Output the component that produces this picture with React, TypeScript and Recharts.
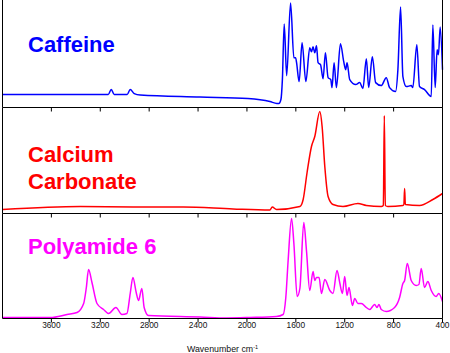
import { LineChart, Line, XAxis, YAxis } from "recharts";

const W = 450;
const H = 353;
const FONT = "'Liberation Sans', Arial, sans-serif";

const wnTicks = [3600, 3200, 2800, 2400, 2000, 1600, 1200, 800, 400];

// [wavenumber cm-1, absorbance (arb. units)]
const caffeine: [number, number][] = [
  [4000, 13], [3530, 13], [3135, 13], [3110, 18], [3086, 13], [2980, 13], [2955, 18],
  [2922, 14], [2873, 12.5], [2384, 10.5], [1992, 9], [1812, 6], [1755, 4], [1739, 4],
  [1722, 8], [1710, 28], [1695, 84], [1675, 32], [1643, 105], [1616, 50], [1602, 50],
  [1594, 45], [1573, 26], [1549, 65], [1518, 26], [1486, 60], [1472, 56], [1459, 61],
  [1445, 55], [1431, 62], [1418, 45], [1398, 43], [1377, 29], [1358, 55], [1336, 30],
  [1314, 28], [1304, 20], [1287, 45], [1268, 20], [1235, 64], [1208, 46], [1192, 38],
  [1181, 45], [1159, 28], [1110, 23], [1078, 25], [1051, 19], [1023, 49], [1004, 20],
  [974, 51], [947, 25], [901, 22], [860, 30], [833, 20], [784, 16], [765, 38], [743, 101],
  [724, 31], [696, 21], [656, 22], [643, 20], [610, 63], [588, 21], [547, 18], [492, 11],
  [479, 83], [460, 20], [444, 58], [433, 53], [419, 81], [400, 38],
];

const calciumCarbonate: [number, number][] = [
  [4000, 4], [3363, 7], [2931, 6.5], [2522, 6.5], [2114, 4.5], [1812, 3.5], [1793, 6.5],
  [1758, 4], [1567, 7], [1540, 14], [1508, 41], [1472, 67], [1445, 77], [1404, 102],
  [1385, 87], [1363, 47], [1336, 17], [1296, 9], [1214, 7], [1092, 10], [1023, 8],
  [901, 7], [884, 8], [876, 98], [868, 8], [847, 7], [724, 8], [716, 9], [710, 25],
  [704, 9], [588, 8], [479, 14], [400, 20],
];

const polyamide6: [number, number][] = [
  [4000, 1], [3608, 1], [3472, 4], [3390, 6], [3336, 15], [3314, 31], [3296, 49],
  [3268, 36], [3227, 15], [3173, 9], [3132, 5], [3072, 11], [3023, 4], [2982, 5],
  [2955, 25], [2933, 41], [2906, 26], [2887, 18], [2860, 30], [2841, 11], [2806, 3],
  [2384, 1.5], [2166, 0.5], [1976, 1], [1758, 2], [1704, 4], [1682, 21], [1663, 58],
  [1635, 100], [1616, 75], [1589, 22], [1567, 30], [1535, 96], [1513, 68], [1486, 28],
  [1459, 47], [1445, 38], [1431, 41], [1410, 41], [1390, 25], [1363, 39], [1322, 28],
  [1296, 25], [1263, 48], [1241, 36], [1219, 25], [1200, 42], [1181, 23], [1165, 31],
  [1137, 13], [1118, 20], [1092, 15], [1064, 15], [1023, 11], [996, 9], [955, 14],
  [936, 11], [920, 14], [901, 9], [860, 7], [792, 11], [751, 21], [724, 35], [710, 38],
  [688, 55], [656, 38], [615, 33], [593, 34], [574, 50], [547, 31], [520, 37], [492, 28],
  [452, 22], [431, 25], [400, 17],
];

const toRows = (pts: [number, number][]) => pts.map(([wn, a]) => ({ wn, a }));

type PanelProps = {
  points: [number, number][];
  color: string;
  top: number;
  bottom: number;
  yMax: number;
  last?: boolean;
};

function Panel({ points, color, top, bottom, yMax, last }: PanelProps) {
  const axisH = last ? 34 : 6;
  return (
    <div style={{ position: "absolute", left: 0, top: 0 }}>
      <LineChart
        width={W}
        height={H}
        data={toRows(points)}
        margin={{ top, right: 5.5, left: 0.5, bottom: H - bottom - axisH }}
      >
        <XAxis
          dataKey="wn"
          type="number"
          domain={[400, 4000]}
          reversed
          ticks={wnTicks}
          height={axisH}
          tickSize={4}
          tickMargin={0}
          axisLine={{ stroke: "#000" }}
          tickLine={{ stroke: "#000" }}
          tick={{ fontSize: 8.3, fill: "#111" }}
          tickFormatter={(v) => (last ? String(v) : "")}
          label={
            last
              ? (p: any) => {
                  const vb = p.viewBox || {};
                  return (
                    <text
                      x={vb.x + vb.width / 2}
                      y={vb.y + vb.height - 1}
                      textAnchor="middle"
                      fontSize={8.8}
                      fill="#111"
                    >
                      Wavenumber cm
                      <tspan dy={-3} fontSize={5.5}>
                        -1
                      </tspan>
                    </text>
                  );
                }
              : undefined
          }
        />
        <YAxis domain={[0, yMax]} width={2} tick={false} tickLine={false} axisLine={{ stroke: "#000" }} />
        <YAxis
          yAxisId="r"
          orientation="right"
          domain={[0, yMax]}
          width={2}
          tick={false}
          tickLine={false}
          axisLine={{ stroke: "#000" }}
        />
        <Line
          type="monotone"
          dataKey="a"
          stroke={color}
          strokeWidth={1.5}
          dot={false}
          isAnimationActive={false}
        />
      </LineChart>
    </div>
  );
}

const titleStyle = (color: string, top: number, lh = 22): React.CSSProperties => ({
  position: "absolute",
  left: 28,
  top,
  color,
  fontSize: 22,
  fontWeight: "bold",
  lineHeight: `${lh}px`,
  fontFamily: FONT,
});

export default function App() {
  return (
    <div style={{ position: "relative", width: W, height: H, fontFamily: FONT, background: "#fff" }}>
      <style>{"body{margin:0}"}</style>
      <Panel points={caffeine} color="#0000ff" top={0} bottom={107.5} yMax={108} />
      <Panel points={calciumCarbonate} color="#ff0000" top={107.5} bottom={213.5} yMax={106} />
      <Panel points={polyamide6} color="#ff00ff" top={213.5} bottom={318.5} yMax={105} last />
      <div style={titleStyle("#0000ff", 33.7)}>Caffeine</div>
      <div style={titleStyle("#ff0000", 142.3, 26.7)}>
        Calcium
        <br />
        Carbonate
      </div>
      <div style={titleStyle("#ff00ff", 235.7)}>Polyamide 6</div>
    </div>
  );
}
